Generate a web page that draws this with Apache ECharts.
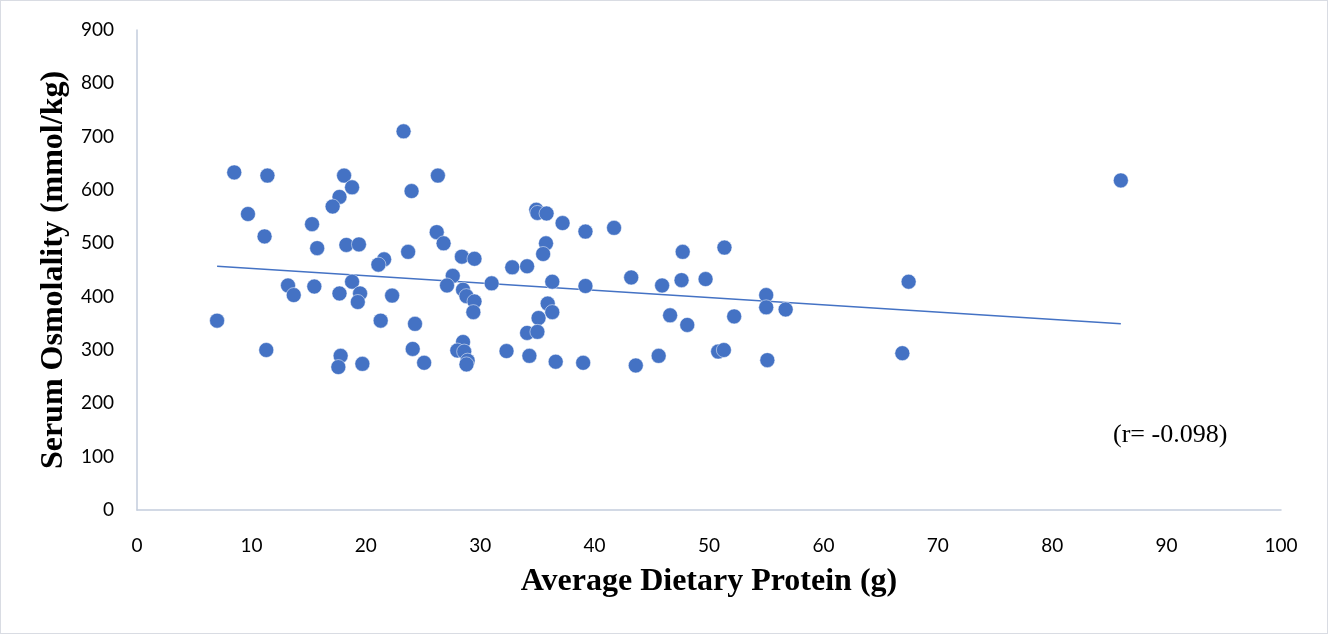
<!DOCTYPE html>
<html>
<head>
<meta charset="utf-8">
<script src="https://cdn.jsdelivr.net/npm/echarts@6/dist/echarts.min.js"></script>
<style>
html,body{margin:0;padding:0;background:#fff;}
#c{width:1328px;height:634px;box-sizing:border-box;border:1px solid #d9dce3;}
</style>
</head>
<body>
<div id="c"></div>
<script>
// Average dietary protein (g)
const proteinX = [7.0,8.5,11.4,9.7,11.15,11.3,13.2,13.7,15.3,15.75,15.5,18.1,18.8,17.7,17.1,18.3,19.4,17.7,18.8,19.5,19.3,21.3,17.8,17.6,19.7,21.6,21.1,22.3,23.3,24.0,26.3,23.7,26.2,26.8,24.3,24.1,25.1,27.6,27.1,28.4,29.5,28.5,28.8,29.5,29.4,28.5,28.0,28.6,28.9,28.8,31.0,32.8,34.1,34.9,35.0,35.8,37.2,39.2,41.7,35.75,35.5,36.3,39.2,35.9,36.3,35.1,34.1,35.0,32.3,34.3,36.6,39.0,43.2,43.6,45.6,45.9,46.6,48.1,47.7,47.6,49.7,51.35,52.2,50.8,51.3,55.0,55.0,56.7,55.1,67.45,66.9,86.0];
// Serum osmolality (mmol/kg)
const osmolalityY = [355,633,627,555,513,300,421,403,536,491,419,627,605,587,569,497,498,406,428,406,390,355,289,268,274,470,460,402,710,598,627,484,521,500,349,302,276,439,421,475,471,413,401,391,371,315,299,297,280,273,425,455,457,563,557,556,538,522,529,500,480,428,420,387,371,360,332,334,298,289,278,276,436,271,289,421,365,347,484,431,433,492,363,297,300,403,380,376,281,428,294,618];
// Linear trendline endpoints
const trendX = [7.0, 86.0];
const trendY = [457, 349];
const xTicks = [0,10,20,30,40,50,60,70,80,90,100];
const yTicks = [0,100,200,300,400,500,600,700,800,900];
const rLabel = '(r= -0.098)';

const pts = proteinX.map((x,i)=>[x, osmolalityY[i]]);
const trend = trendX.map((x,i)=>[x, trendY[i]]);

const chart = echarts.init(document.getElementById('c'), null, {renderer:'canvas'});
const axisLineColor = '#c3cddd';
chart.setOption({
  animation:false,
  grid:{left:136, top:29, right:46, bottom:123, containLabel:false},
  xAxis:{
    type:'value', min:xTicks[0], max:xTicks[xTicks.length-1], interval:10,
    splitLine:{show:false}, axisTick:{show:false},
    axisLine:{show:true, lineStyle:{color:axisLineColor, width:1.5}},
    axisLabel:{color:'#000', fontFamily:'Lato', fontSize:19, margin:26},
    name:'Average Dietary Protein (g)', nameLocation:'middle', nameGap:56,
    nameTextStyle:{fontFamily:'Liberation Serif', fontWeight:'bold', fontSize:32, color:'#000'}
  },
  yAxis:{
    type:'value', min:yTicks[0], max:yTicks[yTicks.length-1], interval:100,
    splitLine:{show:false}, axisTick:{show:false},
    axisLine:{show:true, lineStyle:{color:axisLineColor, width:1.5}},
    axisLabel:{color:'#000', fontFamily:'Lato', fontSize:19, margin:23},
    name:'Serum Osmolality (mmol/kg)', nameLocation:'middle', nameGap:66, nameRotate:90,
    nameTextStyle:{fontFamily:'Liberation Serif', fontWeight:'bold', fontSize:32, color:'#000'}
  },
  series:[
    {type:'scatter', data:pts, symbolSize:15, z:3,
     itemStyle:{color:'#4472C4', borderColor:'#ffffff', borderWidth:0.5, opacity:1}},
    {type:'line', data:trend, showSymbol:false, symbol:'none', z:2,
     lineStyle:{color:'#4472C4', width:1.5}}
  ],
  graphic:[
    {type:'text', left:1112, top:421, style:{text:rLabel, font:'26px "Liberation Serif"', fill:'#000'}}
  ]
});
</script>
</body>
</html>
